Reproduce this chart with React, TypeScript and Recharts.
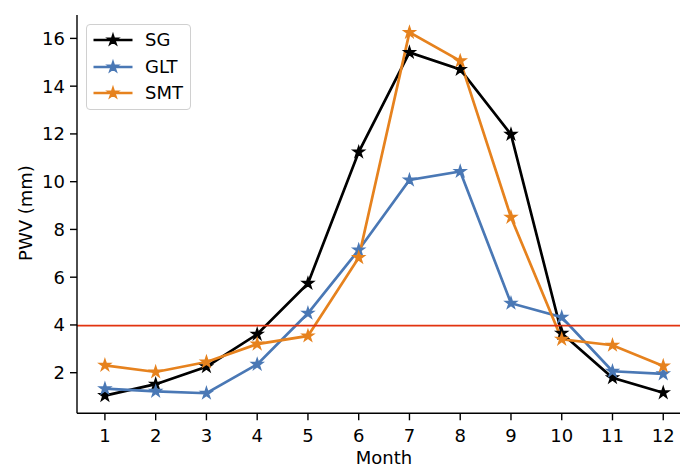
import React from "react";
import { LineChart, Line, XAxis, YAxis, ReferenceLine, Label } from "recharts";

const months = [1, 2, 3, 4, 5, 6, 7, 8, 9, 10, 11, 12];
const sg = [1.04, 1.52, 2.25, 3.61, 5.74, 11.24, 15.41, 14.7, 11.98, 3.65, 1.79, 1.16];
const glt = [1.33, 1.22, 1.14, 2.35, 4.49, 7.14, 10.07, 10.43, 4.91, 4.32, 2.06, 1.95];
const smt = [2.31, 2.03, 2.45, 3.2, 3.54, 6.82, 16.25, 15.06, 8.51, 3.4, 3.15, 2.28];
const yTicks = [2, 4, 6, 8, 10, 12, 14, 16];
const threshold = 3.97;

const seriesInfo = [
  { key: "SG", color: "#000000" },
  { key: "GLT", color: "#4a78b5" },
  { key: "SMT", color: "#e6821e" },
];

const data = months.map((m, i) => ({ month: m, SG: sg[i], GLT: glt[i], SMT: smt[i] }));

const FONT = "DejaVu Sans, sans-serif";
const FS = 18;
const STAR_R = 5.6;

function starPoints(cx: number, cy: number, r: number) {
  const inner = r * 0.381966;
  const pts: string[] = [];
  for (let i = 0; i < 10; i++) {
    const ang = -Math.PI / 2 + (i * Math.PI) / 5;
    const rr = i % 2 === 0 ? r : inner;
    pts.push(`${cx + rr * Math.cos(ang)},${cy + rr * Math.sin(ang)}`);
  }
  return pts.join(" ");
}

const makeDot = (color: string) => (props: any) => {
  const { cx, cy, index } = props;
  if (cx == null || cy == null) return <g key={index} />;
  return (
    <polygon
      key={`${color}-${index}`}
      points={starPoints(cx, cy, STAR_R)}
      fill={color}
      stroke={color}
      strokeWidth={1.6}
      strokeLinejoin="miter"
    />
  );
};

const LegendBox = () => (
  <div
    style={{
      position: "absolute",
      left: 86,
      top: 24,
      width: 105,
      height: 86,
      border: "1.4px solid #d0d0d0",
      borderRadius: 4,
      background: "rgba(255,255,255,0.8)",
      boxSizing: "border-box",
      fontFamily: FONT,
      fontSize: FS,
    }}
  >
    {seriesInfo.map((s, i) => (
      <div key={s.key} style={{ position: "absolute", left: 0, top: 4 + i * 26.5, height: 22, width: 100 }}>
        <svg width={48} height={22} style={{ position: "absolute", left: 5, top: 0 }}>
          <line x1={1.5} y1={11} x2={40.5} y2={11} stroke={s.color} strokeWidth={2.7} />
          <polygon points={starPoints(21, 11, STAR_R)} fill={s.color} stroke={s.color} strokeWidth={1.6} />
        </svg>
        <span style={{ position: "absolute", left: 58, top: 0, lineHeight: "22px", color: "#000" }}>{s.key}</span>
      </div>
    ))}
  </div>
);

export default function App() {
  return (
    <div style={{ width: 680, height: 467, background: "#fff", position: "relative", overflow: "hidden" }}>
      <style>{`html, body { margin: 0; padding: 0; }`}</style>
      <LineChart width={680} height={467} data={data} margin={{ top: 15, right: 0, left: 0, bottom: 0 }}>
        <XAxis
          dataKey="month"
          type="number"
          domain={[0.45, 12.33]}
          ticks={months}
          allowDataOverflow
          height={53.7}
          tickSize={7}
          tickMargin={9}
          stroke="#000"
          strokeWidth={1.4}
          tick={{ fill: "#000", fontSize: FS, fontFamily: FONT }}
        >
          <Label
            content={() => (
              <text
                x={384}
                y={457.5}
                textAnchor="middle"
                dominantBaseline="central"
                fontFamily={FONT}
                fontSize={FS}
                fill="#000"
              >
                Month
              </text>
            )}
          />
        </XAxis>
        <XAxis
          xAxisId="top"
          orientation="top"
          dataKey="month"
          type="number"
          domain={[0.45, 12.33]}
          allowDataOverflow
          height={0}
          tick={false}
          tickLine={false}
          stroke="#000"
          strokeWidth={1.4}
        />
        <YAxis
          type="number"
          domain={[0.3, 16.98]}
          ticks={yTicks}
          allowDataOverflow
          width={77}
          tickSize={7}
          tickMargin={5}
          stroke="#000"
          strokeWidth={1.4}
          tick={{ fill: "#000", fontSize: FS, fontFamily: FONT }}
        >
          <Label
            content={() => (
              <text
                x={25}
                y={213}
                textAnchor="middle"
                dominantBaseline="central"
                transform="rotate(-90 25 213)"
                fontFamily={FONT}
                fontSize={FS}
                fill="#000"
              >
                PWV (mm)
              </text>
            )}
          />
        </YAxis>
        {seriesInfo.map((s) => (
          <Line
            key={s.key}
            dataKey={s.key}
            type="linear"
            stroke={s.color}
            strokeWidth={2.7}
            dot={makeDot(s.color)}
            activeDot={false}
            isAnimationActive={false}
          />
        ))}
        <ReferenceLine y={threshold} stroke="#e2330f" strokeWidth={1.8} />
      </LineChart>
      <LegendBox />
    </div>
  );
}
